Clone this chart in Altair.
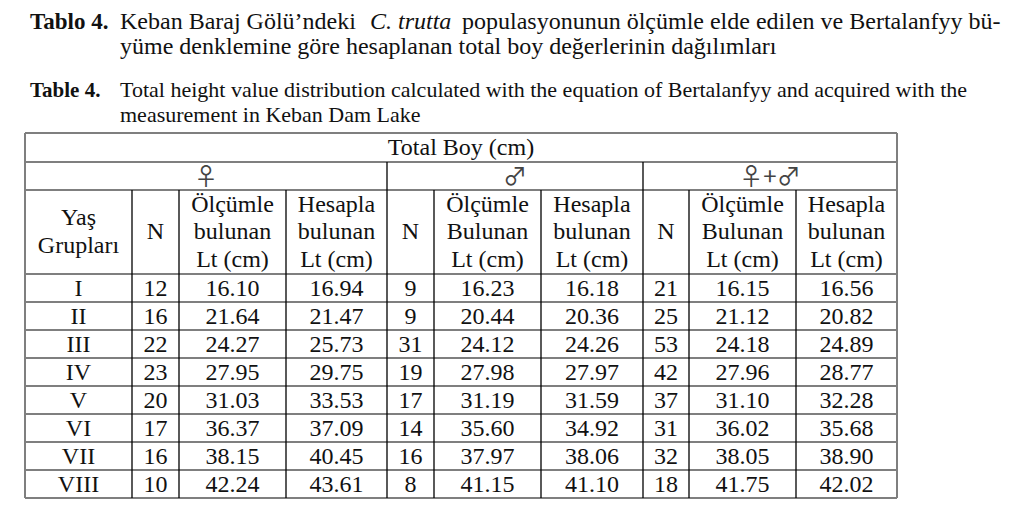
import altair as alt
import pandas as pd

# ---------------- data ----------------
yas = ["I", "II", "III", "IV", "V", "VI", "VII", "VIII"]
n_female = [12, 16, 22, 23, 20, 17, 16, 10]
olc_female = [16.10, 21.64, 24.27, 27.95, 31.03, 36.37, 38.15, 42.24]
hes_female = [16.94, 21.47, 25.73, 29.75, 33.53, 37.09, 40.45, 43.61]
n_male = [9, 9, 31, 19, 17, 14, 16, 8]
olc_male = [16.23, 20.44, 24.12, 27.98, 31.19, 35.60, 37.97, 41.15]
hes_male = [16.18, 20.36, 24.26, 27.97, 31.59, 34.92, 38.06, 41.10]
n_all = [21, 25, 53, 42, 37, 31, 32, 18]
olc_all = [16.15, 21.12, 24.18, 27.96, 31.10, 36.02, 38.05, 41.75]
hes_all = [16.56, 20.82, 24.89, 28.77, 32.28, 35.68, 38.90, 42.02]

col_headers = [
    "Yaş\nGrupları", "N", "Ölçümle\nbulunan\nLt (cm)", "Hesapla\nbulunan\nLt (cm)",
    "N", "Ölçümle\nBulunan\nLt (cm)", "Hesapla\nbulunan\nLt (cm)",
    "N", "Ölçümle\nBulunan\nLt (cm)", "Hesapla\nbulunan\nLt (cm)",
]
group_labels = ["♀", "♂", "♀+♂"]
top_header = "Total Boy (cm)"

caption_bold = ["Tablo 4.", "Table 4."]
caption_tr_1a = "Keban Baraj Gölü’ndeki"
caption_tr_1b = "C. trutta"
caption_tr_1c = "populasyonunun ölçümle elde edilen ve Bertalanfyy bü-"
caption_tr_2 = "yüme denklemine göre hesaplanan total boy değerlerinin dağılımları"
caption_en_1 = "Total height value distribution calculated with the equation of Bertalanfyy and acquired with the"
caption_en_2 = "measurement in Keban Dam Lake"

# ---------------- layout ----------------
FONT = "Liberation Serif"
TFS = 24
LH = 27.5
col_edges = [25, 132, 179, 286, 387, 434, 541, 643, 689, 796, 897]
group_edges = [25, 387, 643, 897]
head_rows = [133, 162, 190, 274]
ROW_H = 28
data_rows = [head_rows[-1] + ROW_H * k for k in range(len(yas) + 1)]
bottom = data_rows[-1]

xs = alt.Scale(domain=[8, 1012])
ys = alt.Scale(domain=[8, 500], reverse=True)

def cx(c):
    return (col_edges[c] + col_edges[c + 1]) / 2

# body cells
columns = [yas, n_female, olc_female, hes_female, n_male, olc_male, hes_male, n_all, olc_all, hes_all]
body = []
for c, vals in enumerate(columns):
    for r, v in enumerate(vals):
        txt = f"{v:.2f}" if isinstance(v, float) else str(v)
        body.append({"x": cx(c), "y": (data_rows[r] + data_rows[r + 1]) / 2, "t": txt})
body_df = pd.DataFrame(body)

head_mid = (head_rows[2] + head_rows[3]) / 2
head = []
for c, h in enumerate(col_headers):
    n = h.count("\n") + 1
    head.append({"x": cx(c), "y": head_mid - (n - 1) / 2 * LH, "t": h})
head += [{"x": (col_edges[0] + col_edges[-1]) / 2, "y": (head_rows[0] + head_rows[1]) / 2, "t": top_header}]
head_df = pd.DataFrame(head)

sym_df = pd.DataFrame([
    {"x": (group_edges[g] + group_edges[g + 1]) / 2, "y": (head_rows[1] + head_rows[2]) / 2, "t": lab}
    for g, lab in enumerate(group_labels)
])

# lines
gray = []
for yy in head_rows + data_rows[1:]:
    gray.append({"x": col_edges[0], "x2": col_edges[-1], "y": yy, "y2": yy})
gray.append({"x": col_edges[0], "x2": col_edges[0], "y": head_rows[0], "y2": bottom})
gray.append({"x": col_edges[-1], "x2": col_edges[-1], "y": head_rows[0], "y2": bottom})
gray_df = pd.DataFrame(gray)

black = []
for xx in group_edges[1:-1]:
    black.append({"x": xx, "x2": xx, "y": head_rows[1], "y2": bottom})
for xx in col_edges[1:-1]:
    if xx not in group_edges:
        black.append({"x": xx, "x2": xx, "y": head_rows[2], "y2": bottom})
black_df = pd.DataFrame(black)

# captions
cap_bold_df = pd.DataFrame([
    {"x": 30, "y": 29, "t": caption_bold[0], "fs": 23},
    {"x": 30, "y": 97, "t": caption_bold[1], "fs": 21},
])
cap_norm_df = pd.DataFrame([
    {"x": 120, "y": 29, "t": caption_tr_1a, "fs": 24},
    {"x": 462, "y": 29, "t": caption_tr_1c, "fs": 24},
    {"x": 120, "y": 54, "t": caption_tr_2, "fs": 24},
    {"x": 120, "y": 97, "t": caption_en_1, "fs": 22},
    {"x": 120, "y": 122, "t": caption_en_2, "fs": 22},
])
cap_it_df = pd.DataFrame([{"x": 370, "y": 29, "t": caption_tr_1b, "fs": 24}])

TXT = "#111111"

def xy():
    return dict(x=alt.X("x:Q", scale=xs, axis=None), y=alt.Y("y:Q", scale=ys, axis=None))

gray_layer = alt.Chart(gray_df).mark_rule(color="#7f7f7f", strokeWidth=2).encode(
    x2="x2:Q", y2="y2:Q", **xy())
black_layer = alt.Chart(black_df).mark_rule(color="#000000", strokeWidth=1.3).encode(
    x2="x2:Q", y2="y2:Q", **xy())

body_layer = alt.Chart(body_df).mark_text(
    font=FONT, fontSize=TFS, align="center", baseline="middle", color=TXT, dy=1
).encode(text="t:N", **xy())

head_layer = alt.Chart(head_df).mark_text(
    font=FONT, fontSize=TFS, align="center", baseline="middle", color=TXT,
    lineBreak="\n", lineHeight=LH, dy=0
).encode(text="t:N", **xy())

sym_layer = alt.Chart(sym_df).mark_text(
    font="Noto Sans CJK JP", fontSize=24, align="center", baseline="middle", color="#444444", dy=2
).encode(text="t:N", **xy())

capb_layer = alt.Chart(cap_bold_df).mark_text(
    font=FONT, fontWeight="bold", align="left", baseline="alphabetic", color=TXT
).encode(text="t:N", size=alt.Size("fs:Q", scale=None), **xy())
capn_layer = alt.Chart(cap_norm_df).mark_text(
    font=FONT, align="left", baseline="alphabetic", color=TXT
).encode(text="t:N", size=alt.Size("fs:Q", scale=None), **xy())
capi_layer = alt.Chart(cap_it_df).mark_text(
    font=FONT, fontStyle="italic", align="left", baseline="alphabetic", color=TXT
).encode(text="t:N", size=alt.Size("fs:Q", scale=None), **xy())

chart = alt.layer(
    gray_layer, black_layer, body_layer, head_layer, sym_layer, capb_layer, capn_layer, capi_layer
).properties(
    width=1004, height=492, padding=0, autosize=alt.AutoSizeParams(type="none"),
    background="white"
).configure_view(stroke=None)

chart.save("out.html", embed_options={"renderer": "svg", "actions": False})
